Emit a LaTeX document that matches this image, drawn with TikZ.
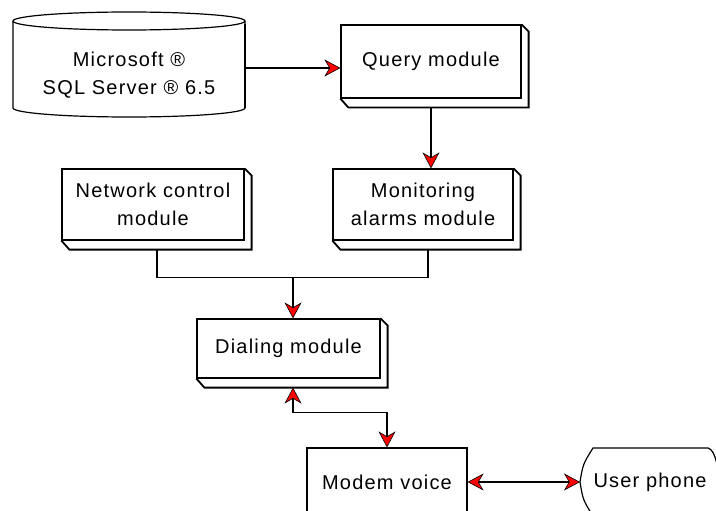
\documentclass[tikz,border=0pt]{standalone}
\usepackage{fontspec}
\setmainfont[LetterSpace=6]{Liberation Sans}
\usetikzlibrary{arrows.meta,calc}
\begin{document}
\begin{tikzpicture}[x=1pt,y=-1pt,
  box/.style={draw, line width=1.2pt, fill=white, align=center, inner sep=0pt, font=\fontsize{20}{28}\selectfont},
  lbl/.style={align=center, inner sep=0pt, font=\fontsize{20}{28}\selectfont},
  slabline/.style={line width=1.8pt, line join=miter},
  conn/.style={line width=1.2pt},
  headone/.style={-{Stealth[length=16pt,width=17pt,inset=5pt,fill=red,line width=0.6pt]}},
  headtwo/.style={{Stealth[length=16pt,width=17pt,inset=5pt,fill=red,line width=0.6pt]}-{Stealth[length=16pt,width=17pt,inset=5pt,fill=red,line width=0.6pt]}}]
\useasboundingbox (0,0) rectangle (716,511);
\clip (0,0) rectangle (716,511);
\fill[white] (0,0) rectangle (716,511);

% database cylinder
\draw[line width=1.2pt] (13,21) -- (13,108) arc[start angle=180, end angle=360, x radius=116pt, y radius=9pt] -- (245,21);
\draw[line width=2pt] (245,24) -- (245,108);
\draw[line width=1.2pt] (129,21) ellipse [x radius=116pt, y radius=9pt];
\node[lbl, minimum width=232pt, minimum height=60pt] (db) at (129,75) {Microsoft ®\\SQL Server ® 6.5};

% 3D boxes
\newcommand\slabof[1]{\draw[slabline] (#1.north east) -- ++(7,7) |- ($(#1.south west)+(8,9)$) -- (#1.south west);}
\node[box, minimum width=180pt, minimum height=73pt] (q) at (431,61.5) {Query module};
\slabof{q}
\node[box, minimum width=182pt, minimum height=71pt] (n) at (153,204.5) {Network control\\module};
\slabof{n}
\node[box, minimum width=180pt, minimum height=71pt] (m) at (423,204.5) {Monitoring\\alarms module};
\slabof{m}
\node[box, minimum width=183pt, minimum height=59pt] (d) at (288.5,348.5) {Dialing module};
\slabof{d}
\node[box, minimum width=160pt, minimum height=68pt] (mv) at (387,482) {Modem voice};

% user phone (display shape)
\node[lbl] (up) at (650,482) {User phone};
\coordinate (upl) at (580,482);
\draw[line width=1.2pt] (593,516) .. controls (583,500) .. (upl) .. controls (583,464) .. (593,448) -- (708,448) .. controls (716,450) and (718,470) .. (720,482);

% connectors
\coordinate (dbr) at ($(db.east)+(0,-7)$);
\draw[conn,headone] (dbr) -- (q.west |- dbr);
\draw[conn,headone] ($(q.south)+(0,9)$) -- (q.south |- m.north);
\coordinate (j) at (293,277);
\draw[conn] ($(n.south)+(4,9)$) |- ($(m.south)+(5,37)$) -- ($(m.south)+(5,9)$);
\draw[conn,headone] (j) -- (j |- d.north);
\coordinate (dbot) at ($(d.south)+(4.5,9)$);
\draw[conn,headtwo] (dbot) |- ($(mv.north)+(0,-35)$) -- (mv.north);
\draw[conn,headtwo] (mv.east) -- (upl);
\end{tikzpicture}
\end{document}
